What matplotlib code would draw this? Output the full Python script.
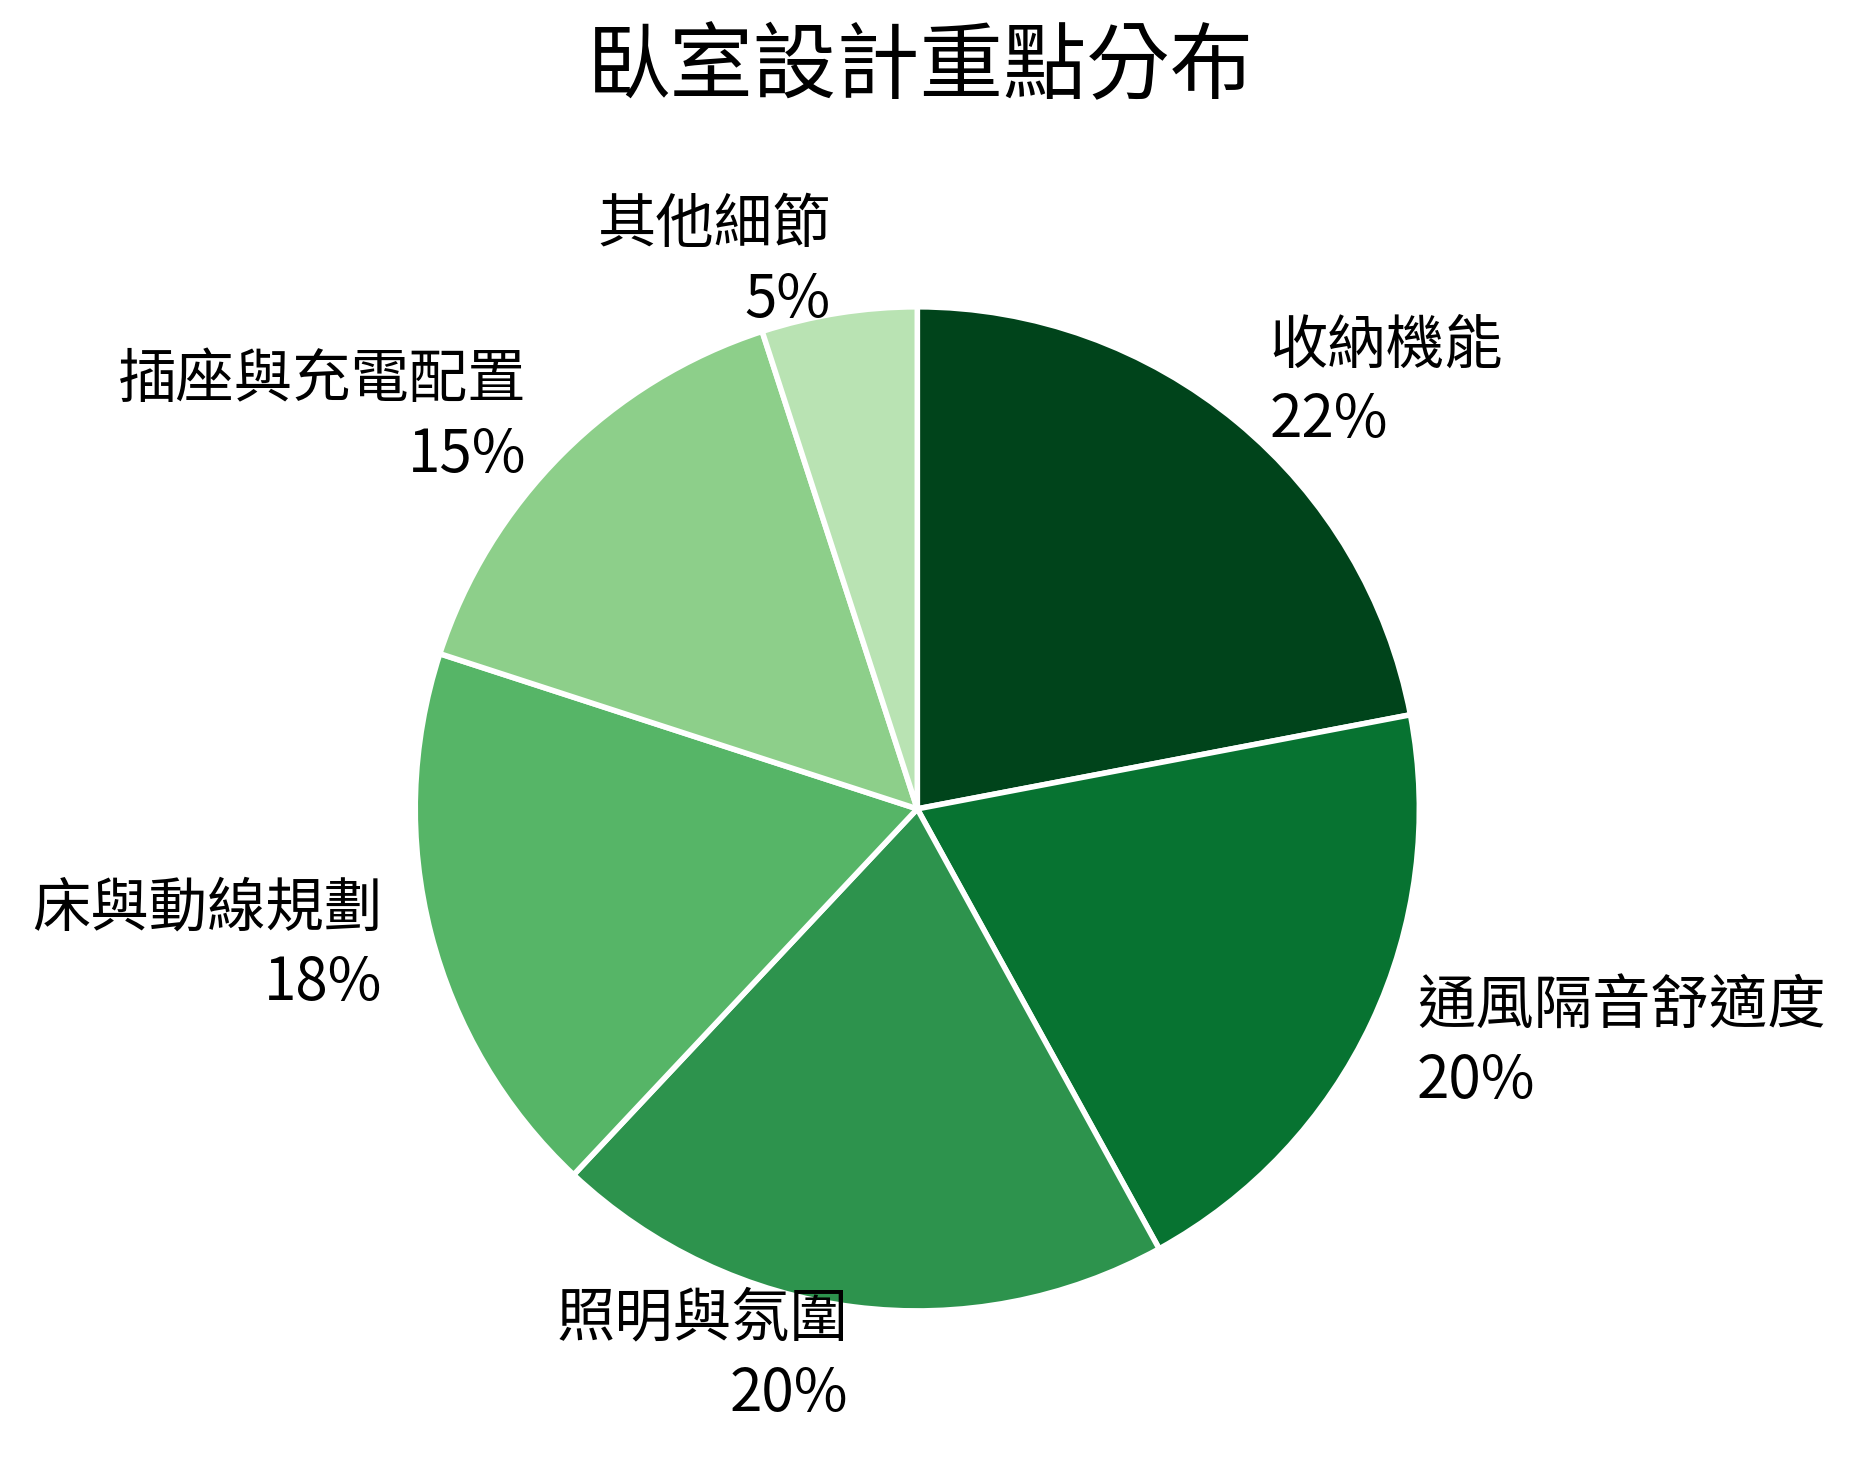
import matplotlib
matplotlib.use("Agg")
import matplotlib.pyplot as plt

plt.rcParams['font.family'] = ['Noto Sans CJK TC', 'DejaVu Sans']

names = ['收納機能', '通風隔音舒適度', '照明與氛圍', '床與動線規劃', '插座與充電配置', '其他細節']
values = [22, 20, 20, 18, 15, 5]
colors = ['#00441b', '#077331', '#2d934d', '#56b567', '#8dcf8a', '#b9e3b3']

labels = [f"{n}\n{v}%" for n, v in zip(names, values)]

fig = plt.figure(figsize=(9.275, 7.34), dpi=200)
ax = fig.add_axes([0.156, 0.0215, 0.677, 0.855])
wedges, texts = ax.pie(values, labels=labels, colors=colors, startangle=90,
                       counterclock=False, labeldistance=1.1,
                       wedgeprops=dict(edgecolor='white', linewidth=2.0),
                       textprops=dict(fontsize=21, linespacing=1.3))
ax.set_aspect('equal')

fig.text(0.496, 0.954, '臥室設計重點分布', ha='center', va='center', fontsize=30)

fig.savefig('out.png', dpi=200, facecolor='white')
